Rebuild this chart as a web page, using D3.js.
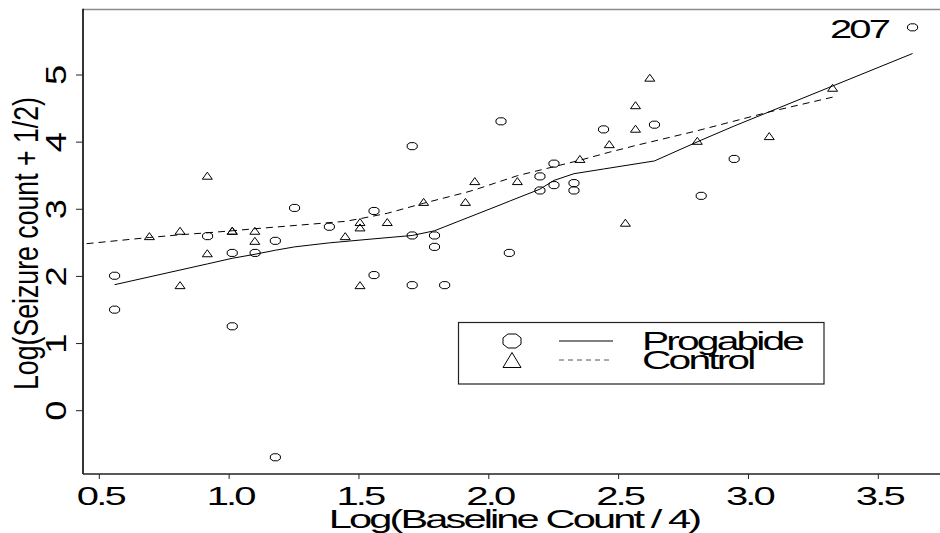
<!DOCTYPE html>
<html>
<head>
<meta charset="utf-8">
<script src="https://cdn.jsdelivr.net/npm/d3@7"></script>
<style>
  html, body { margin: 0; padding: 0; background: #fff; }
  svg { display: block; }
  text { font-family: "Liberation Sans", Arial, sans-serif; fill: #000; }
</style>
</head>
<body>
<svg id="chart" width="940" height="533"></svg>
<script>
// values
const xTicks = [0.5, 1.0, 1.5, 2.0, 2.5, 3.0, 3.5];
const yTicks = [0, 1, 2, 3, 4, 5];

const progX = [0.559, 0.559, 0.917, 1.012, 1.012, 1.10, 1.178, 1.178, 1.252, 1.386,
               1.558, 1.558, 1.705, 1.705, 1.705, 1.791, 1.791, 1.83, 2.047, 2.079,
               2.197, 2.197, 2.251, 2.251, 2.328, 2.328, 2.442, 2.638, 2.818, 2.945, 3.632];
const progY = [2.01, 1.505, 2.60, 2.35, 1.257, 2.35, 2.53, -0.694, 3.02, 2.74,
               2.975, 2.02, 3.94, 2.61, 1.87, 2.61, 2.44, 1.87, 4.31, 2.35,
               3.49, 3.28, 3.68, 3.36, 3.39, 3.28, 4.19, 4.26, 3.20, 3.75, 5.71];

const ctrlX = [0.693, 0.811, 0.811, 0.916, 0.916, 1.012, 1.012, 1.099, 1.099, 1.447,
               1.504, 1.504, 1.504, 1.609, 1.749, 1.91, 1.946, 2.11, 2.351, 2.464,
               2.526, 2.565, 2.565, 2.62, 2.803, 3.08, 3.324];
const ctrlY = [2.60, 2.68, 1.87, 3.50, 2.345, 2.68, 2.68, 2.68, 2.53, 2.60,
               2.81, 2.73, 1.87, 2.81, 3.11, 3.11, 3.42, 3.42, 3.75, 3.97,
               2.80, 4.55, 4.20, 4.96, 4.02, 4.09, 4.81];

// smoothed fits (solid = Progabide, dashed = Control)
const progFitX = [0.559, 0.917, 1.012, 1.10, 1.178, 1.252, 1.386, 1.558, 1.705, 1.791,
                  1.83, 2.047, 2.079, 2.197, 2.251, 2.328, 2.442, 2.638, 2.818, 2.945, 3.632];
const progFitY = [1.877, 2.187, 2.27, 2.33, 2.39, 2.44, 2.50, 2.56, 2.61, 2.68,
                  2.74, 3.07, 3.12, 3.30, 3.43, 3.53, 3.60, 3.72, 4.03, 4.24, 5.32];
const ctrlFitX = [0.405, 0.693, 0.811, 0.916, 1.012, 1.099, 1.447, 1.504, 1.609, 1.749,
                  1.91, 1.946, 2.11, 2.351, 2.464, 2.526, 2.565, 2.62, 2.803, 3.08, 3.324];
const ctrlFitY = [2.47, 2.58, 2.62, 2.65, 2.68, 2.71, 2.82, 2.86, 2.94, 3.09,
                  3.25, 3.29, 3.50, 3.73, 3.85, 3.91, 3.95, 4.00, 4.17, 4.45, 4.67];

const groups = ["Progabide", "Control"];
const outlierLabel = "207";

const svg = d3.select("#chart");
const plot = { left: 83, right: 940, top: 9.5, bottom: 474 };

let x = d3.scaleLinear().domain([0.5, 3.5]).range([99.3, 878.3]);
let y = d3.scaleLinear().domain([0, 5]).range([410.7, 75]);

// octagon and triangle outlines, centred on 0,0
let octagon = (w, h) => {
  let a = w / 2, b = h / 2, ca = a * 0.45, cb = b * 0.45;
  return `M${-ca},${-b}L${ca},${-b}L${a},${-cb}L${a},${cb}L${ca},${b}L${-ca},${b}L${-a},${cb}L${-a},${-cb}Z`;
};
let triangle = (w, h) => `M0,${-h / 2}L${w / 2},${h / 2}L${-w / 2},${h / 2}Z`;

// stretched text, as in the picture
let stretchedText = (parent, px, py, str, size, anchor) => {
  parent.append("text")
        .attr("transform", `translate(${px},${py}) scale(1.6,1)`)
        .attr("text-anchor", anchor)
        .style("font-size", `${size}px`)
        .style("letter-spacing", "-1.8px")
        .text(str);
};

let drawFrame = () => {
  svg.append("line")
     .attr("x1", plot.left).attr("x2", plot.right)
     .attr("y1", plot.top).attr("y2", plot.top)
     .attr("stroke", "#8c8c8c").attr("stroke-width", 1.6);
  svg.append("line")
     .attr("x1", plot.left).attr("x2", plot.left)
     .attr("y1", plot.top - 0.8).attr("y2", plot.bottom)
     .attr("stroke", "#000").attr("stroke-width", 1.6);
  svg.append("line")
     .attr("x1", plot.left).attr("x2", plot.right)
     .attr("y1", plot.bottom).attr("y2", plot.bottom)
     .attr("stroke", "#222").attr("stroke-width", 1.4);
};

let drawAxes = () => {
  let xAxis = svg.append("g").attr("class", "x axis");
  xAxis.selectAll("line")
       .data(xTicks)
       .enter()
       .append("line")
       .attr("x1", (d) => x(d)).attr("x2", (d) => x(d))
       .attr("y1", plot.bottom).attr("y2", plot.bottom + 5)
       .attr("stroke", "#222");
  xTicks.forEach((d) => stretchedText(xAxis, x(d) + 1, 505, d3.format(".1f")(d), 25, "middle"));

  let yAxis = svg.append("g").attr("class", "y axis");
  yAxis.selectAll("line")
       .data(yTicks)
       .enter()
       .append("line")
       .attr("x1", plot.left - 7).attr("x2", plot.left)
       .attr("y1", (d) => y(d)).attr("y2", (d) => y(d))
       .attr("stroke", "#222");
  yAxis.selectAll("text")
       .data(yTicks)
       .enter()
       .append("text")
       .attr("transform", (d) => `translate(66,${y(d)}) rotate(-90) scale(1.45,1.2)`)
       .attr("text-anchor", "middle")
       .style("font-size", "25px")
       .text((d) => d);

  stretchedText(svg, 514, 528, "Log(Baseline Count / 4)", 26, "middle");
  svg.append("text")
     .attr("transform", `translate(38,${243.5}) rotate(-90) scale(1,1.3)`)
     .attr("text-anchor", "middle")
     .style("font-size", "26.7px")
     .text("Log(Seizure count + 1/2)");
};

let drawFits = () => {
  svg.append("clipPath")
     .attr("id", "plot-clip")
     .append("rect")
     .attr("x", plot.left).attr("y", plot.top)
     .attr("width", plot.right - plot.left).attr("height", plot.bottom - plot.top);
  let line = d3.line().x((d) => x(d[0])).y((d) => y(d[1]));
  let fits = svg.append("g").attr("clip-path", "url(#plot-clip)");
  fits.append("path")
      .attr("d", line(d3.zip(progFitX, progFitY)))
      .attr("fill", "none").attr("stroke", "#000").attr("stroke-width", 1);
  fits.append("path")
      .attr("d", line(d3.zip(ctrlFitX, ctrlFitY)))
      .attr("fill", "none").attr("stroke", "#000").attr("stroke-width", 1)
      .attr("stroke-dasharray", "7,5");
};

let drawPoints = () => {
  svg.append("g")
     .selectAll("path")
     .data(d3.zip(progX, progY))
     .enter()
     .append("path")
     .attr("d", octagon(10, 7))
     .attr("transform", (d) => `translate(${x(d[0])},${y(d[1])})`)
     .attr("fill", "none").attr("stroke", "#000").attr("stroke-width", 1);
  svg.append("g")
     .selectAll("path")
     .data(d3.zip(ctrlX, ctrlY))
     .enter()
     .append("path")
     .attr("d", triangle(10, 7))
     .attr("transform", (d) => `translate(${x(d[0])},${y(d[1])})`)
     .attr("fill", "none").attr("stroke", "#000").attr("stroke-width", 1);
  stretchedText(svg, 888, 38, outlierLabel, 25, "end");
};

let drawLegend = () => {
  let legend = svg.append("g").attr("class", "legend");
  legend.append("rect")
        .attr("x", 458.5).attr("y", 322.5)
        .attr("width", 365.5).attr("height", 61.5)
        .attr("fill", "#fff").attr("stroke", "#222").attr("stroke-width", 1.2);
  let rows = [341, 360];
  legend.append("path")
        .attr("d", octagon(18, 14))
        .attr("transform", `translate(512,${rows[0]})`)
        .attr("fill", "none").attr("stroke", "#000");
  legend.append("path")
        .attr("d", triangle(18, 15))
        .attr("transform", `translate(512,${rows[1]})`)
        .attr("fill", "none").attr("stroke", "#000");
  legend.append("line")
        .attr("x1", 559).attr("x2", 613).attr("y1", rows[0]).attr("y2", rows[0])
        .attr("stroke", "#000");
  legend.append("line")
        .attr("x1", 559).attr("x2", 609).attr("y1", rows[1]).attr("y2", rows[1])
        .attr("stroke", "#555").attr("stroke-dasharray", "5,4");
  stretchedText(legend, 642, 350, groups[0], 25.5, "start");
  stretchedText(legend, 642, 369, groups[1], 25.5, "start");
};

drawFrame();
drawFits();
drawPoints();
drawAxes();
drawLegend();
</script>
</body>
</html>
